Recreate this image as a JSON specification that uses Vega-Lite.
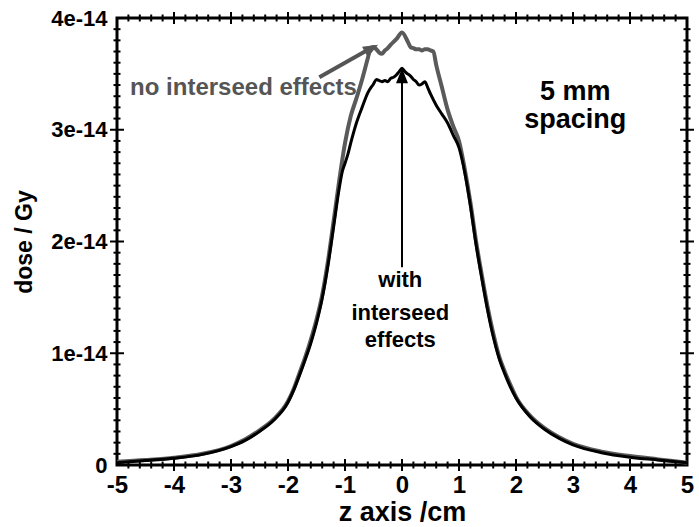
{
  "$schema": "https://vega.github.io/schema/vega-lite/v6.json",
  "width": 570,
  "height": 447,
  "autosize": {"type": "none"},
  "padding": {"left": 117, "top": 18, "right": 12, "bottom": 62},
  "background": "white",
  "config": {"view": {"stroke": "black", "strokeWidth": 3}, "font": "Liberation Sans"},
  "datasets": {
    "curves": [
      {"series": "no interseed effects", "z": -5.0, "dose": 0.03e-14},
      {"series": "no interseed effects", "z": -4.5, "dose": 0.045e-14},
      {"series": "no interseed effects", "z": -4.0, "dose": 0.065e-14},
      {"series": "no interseed effects", "z": -3.5, "dose": 0.10e-14},
      {"series": "no interseed effects", "z": -3.0, "dose": 0.17e-14},
      {"series": "no interseed effects", "z": -2.75, "dose": 0.23e-14},
      {"series": "no interseed effects", "z": -2.5, "dose": 0.31e-14},
      {"series": "no interseed effects", "z": -2.25, "dose": 0.41e-14},
      {"series": "no interseed effects", "z": -2.0, "dose": 0.57e-14},
      {"series": "no interseed effects", "z": -1.9, "dose": 0.68e-14},
      {"series": "no interseed effects", "z": -1.8, "dose": 0.82e-14},
      {"series": "no interseed effects", "z": -1.7, "dose": 0.96e-14},
      {"series": "no interseed effects", "z": -1.6, "dose": 1.12e-14},
      {"series": "no interseed effects", "z": -1.5, "dose": 1.30e-14},
      {"series": "no interseed effects", "z": -1.4, "dose": 1.52e-14},
      {"series": "no interseed effects", "z": -1.3, "dose": 1.82e-14},
      {"series": "no interseed effects", "z": -1.2, "dose": 2.18e-14},
      {"series": "no interseed effects", "z": -1.1, "dose": 2.55e-14},
      {"series": "no interseed effects", "z": -1.0, "dose": 2.88e-14},
      {"series": "no interseed effects", "z": -0.9, "dose": 3.12e-14},
      {"series": "no interseed effects", "z": -0.8, "dose": 3.28e-14},
      {"series": "no interseed effects", "z": -0.7, "dose": 3.45e-14},
      {"series": "no interseed effects", "z": -0.6, "dose": 3.64e-14},
      {"series": "no interseed effects", "z": -0.55, "dose": 3.73e-14},
      {"series": "no interseed effects", "z": -0.5, "dose": 3.74e-14},
      {"series": "no interseed effects", "z": -0.45, "dose": 3.72e-14},
      {"series": "no interseed effects", "z": -0.4, "dose": 3.69e-14},
      {"series": "no interseed effects", "z": -0.35, "dose": 3.68e-14},
      {"series": "no interseed effects", "z": -0.3, "dose": 3.71e-14},
      {"series": "no interseed effects", "z": -0.25, "dose": 3.73e-14},
      {"series": "no interseed effects", "z": -0.2, "dose": 3.76e-14},
      {"series": "no interseed effects", "z": -0.1, "dose": 3.81e-14},
      {"series": "no interseed effects", "z": 0.0, "dose": 3.87e-14},
      {"series": "no interseed effects", "z": 0.1, "dose": 3.79e-14},
      {"series": "no interseed effects", "z": 0.15, "dose": 3.74e-14},
      {"series": "no interseed effects", "z": 0.2, "dose": 3.73e-14},
      {"series": "no interseed effects", "z": 0.25, "dose": 3.72e-14},
      {"series": "no interseed effects", "z": 0.3, "dose": 3.72e-14},
      {"series": "no interseed effects", "z": 0.35, "dose": 3.71e-14},
      {"series": "no interseed effects", "z": 0.4, "dose": 3.72e-14},
      {"series": "no interseed effects", "z": 0.45, "dose": 3.72e-14},
      {"series": "no interseed effects", "z": 0.5, "dose": 3.71e-14},
      {"series": "no interseed effects", "z": 0.55, "dose": 3.70e-14},
      {"series": "no interseed effects", "z": 0.6, "dose": 3.58e-14},
      {"series": "no interseed effects", "z": 0.7, "dose": 3.38e-14},
      {"series": "no interseed effects", "z": 0.8, "dose": 3.18e-14},
      {"series": "no interseed effects", "z": 0.9, "dose": 3.03e-14},
      {"series": "no interseed effects", "z": 1.0, "dose": 2.90e-14},
      {"series": "no interseed effects", "z": 1.1, "dose": 2.65e-14},
      {"series": "no interseed effects", "z": 1.2, "dose": 2.35e-14},
      {"series": "no interseed effects", "z": 1.3, "dose": 2.00e-14},
      {"series": "no interseed effects", "z": 1.4, "dose": 1.70e-14},
      {"series": "no interseed effects", "z": 1.5, "dose": 1.42e-14},
      {"series": "no interseed effects", "z": 1.6, "dose": 1.18e-14},
      {"series": "no interseed effects", "z": 1.7, "dose": 0.98e-14},
      {"series": "no interseed effects", "z": 1.8, "dose": 0.84e-14},
      {"series": "no interseed effects", "z": 1.9, "dose": 0.72e-14},
      {"series": "no interseed effects", "z": 2.0, "dose": 0.61e-14},
      {"series": "no interseed effects", "z": 2.25, "dose": 0.44e-14},
      {"series": "no interseed effects", "z": 2.5, "dose": 0.33e-14},
      {"series": "no interseed effects", "z": 2.75, "dose": 0.25e-14},
      {"series": "no interseed effects", "z": 3.0, "dose": 0.19e-14},
      {"series": "no interseed effects", "z": 3.5, "dose": 0.12e-14},
      {"series": "no interseed effects", "z": 4.0, "dose": 0.08e-14},
      {"series": "no interseed effects", "z": 4.5, "dose": 0.05e-14},
      {"series": "no interseed effects", "z": 5.0, "dose": 0.02e-14},
      {"series": "with interseed effects", "z": -5.0, "dose": 0.02e-14},
      {"series": "with interseed effects", "z": -4.5, "dose": 0.04e-14},
      {"series": "with interseed effects", "z": -4.0, "dose": 0.06e-14},
      {"series": "with interseed effects", "z": -3.5, "dose": 0.095e-14},
      {"series": "with interseed effects", "z": -3.0, "dose": 0.165e-14},
      {"series": "with interseed effects", "z": -2.75, "dose": 0.22e-14},
      {"series": "with interseed effects", "z": -2.5, "dose": 0.30e-14},
      {"series": "with interseed effects", "z": -2.25, "dose": 0.40e-14},
      {"series": "with interseed effects", "z": -2.0, "dose": 0.56e-14},
      {"series": "with interseed effects", "z": -1.9, "dose": 0.67e-14},
      {"series": "with interseed effects", "z": -1.8, "dose": 0.80e-14},
      {"series": "with interseed effects", "z": -1.7, "dose": 0.94e-14},
      {"series": "with interseed effects", "z": -1.6, "dose": 1.09e-14},
      {"series": "with interseed effects", "z": -1.5, "dose": 1.27e-14},
      {"series": "with interseed effects", "z": -1.4, "dose": 1.49e-14},
      {"series": "with interseed effects", "z": -1.3, "dose": 1.78e-14},
      {"series": "with interseed effects", "z": -1.2, "dose": 2.13e-14},
      {"series": "with interseed effects", "z": -1.1, "dose": 2.48e-14},
      {"series": "with interseed effects", "z": -1.05, "dose": 2.62e-14},
      {"series": "with interseed effects", "z": -1.0, "dose": 2.70e-14},
      {"series": "with interseed effects", "z": -0.95, "dose": 2.78e-14},
      {"series": "with interseed effects", "z": -0.9, "dose": 2.88e-14},
      {"series": "with interseed effects", "z": -0.8, "dose": 3.06e-14},
      {"series": "with interseed effects", "z": -0.7, "dose": 3.20e-14},
      {"series": "with interseed effects", "z": -0.6, "dose": 3.33e-14},
      {"series": "with interseed effects", "z": -0.5, "dose": 3.41e-14},
      {"series": "with interseed effects", "z": -0.45, "dose": 3.45e-14},
      {"series": "with interseed effects", "z": -0.4, "dose": 3.44e-14},
      {"series": "with interseed effects", "z": -0.35, "dose": 3.43e-14},
      {"series": "with interseed effects", "z": -0.3, "dose": 3.44e-14},
      {"series": "with interseed effects", "z": -0.25, "dose": 3.43e-14},
      {"series": "with interseed effects", "z": -0.2, "dose": 3.46e-14},
      {"series": "with interseed effects", "z": -0.15, "dose": 3.47e-14},
      {"series": "with interseed effects", "z": -0.1, "dose": 3.49e-14},
      {"series": "with interseed effects", "z": -0.05, "dose": 3.52e-14},
      {"series": "with interseed effects", "z": 0.0, "dose": 3.55e-14},
      {"series": "with interseed effects", "z": 0.05, "dose": 3.52e-14},
      {"series": "with interseed effects", "z": 0.1, "dose": 3.50e-14},
      {"series": "with interseed effects", "z": 0.15, "dose": 3.48e-14},
      {"series": "with interseed effects", "z": 0.2, "dose": 3.45e-14},
      {"series": "with interseed effects", "z": 0.25, "dose": 3.43e-14},
      {"series": "with interseed effects", "z": 0.3, "dose": 3.40e-14},
      {"series": "with interseed effects", "z": 0.35, "dose": 3.41e-14},
      {"series": "with interseed effects", "z": 0.4, "dose": 3.43e-14},
      {"series": "with interseed effects", "z": 0.45, "dose": 3.38e-14},
      {"series": "with interseed effects", "z": 0.5, "dose": 3.32e-14},
      {"series": "with interseed effects", "z": 0.6, "dose": 3.22e-14},
      {"series": "with interseed effects", "z": 0.7, "dose": 3.14e-14},
      {"series": "with interseed effects", "z": 0.8, "dose": 3.06e-14},
      {"series": "with interseed effects", "z": 0.9, "dose": 2.95e-14},
      {"series": "with interseed effects", "z": 1.0, "dose": 2.84e-14},
      {"series": "with interseed effects", "z": 1.1, "dose": 2.62e-14},
      {"series": "with interseed effects", "z": 1.2, "dose": 2.32e-14},
      {"series": "with interseed effects", "z": 1.3, "dose": 1.97e-14},
      {"series": "with interseed effects", "z": 1.4, "dose": 1.67e-14},
      {"series": "with interseed effects", "z": 1.5, "dose": 1.39e-14},
      {"series": "with interseed effects", "z": 1.6, "dose": 1.15e-14},
      {"series": "with interseed effects", "z": 1.7, "dose": 0.96e-14},
      {"series": "with interseed effects", "z": 1.8, "dose": 0.82e-14},
      {"series": "with interseed effects", "z": 1.9, "dose": 0.70e-14},
      {"series": "with interseed effects", "z": 2.0, "dose": 0.60e-14},
      {"series": "with interseed effects", "z": 2.25, "dose": 0.43e-14},
      {"series": "with interseed effects", "z": 2.5, "dose": 0.32e-14},
      {"series": "with interseed effects", "z": 2.75, "dose": 0.24e-14},
      {"series": "with interseed effects", "z": 3.0, "dose": 0.18e-14},
      {"series": "with interseed effects", "z": 3.5, "dose": 0.11e-14},
      {"series": "with interseed effects", "z": 4.0, "dose": 0.07e-14},
      {"series": "with interseed effects", "z": 4.5, "dose": 0.045e-14},
      {"series": "with interseed effects", "z": 5.0, "dose": 0.02e-14}
    ],
    "xmajor": [{"z": -4}, {"z": -3}, {"z": -2}, {"z": -1}, {"z": 0}, {"z": 1}, {"z": 2}, {"z": 3}, {"z": 4}],
    "xminor": [{"z": -4.8}, {"z": -4.6}, {"z": -4.4}, {"z": -4.2}, {"z": -3.8}, {"z": -3.6}, {"z": -3.4}, {"z": -3.2}, {"z": -2.8}, {"z": -2.6}, {"z": -2.4}, {"z": -2.2}, {"z": -1.8}, {"z": -1.6}, {"z": -1.4}, {"z": -1.2}, {"z": -0.8}, {"z": -0.6}, {"z": -0.4}, {"z": -0.2}, {"z": 0.2}, {"z": 0.4}, {"z": 0.6}, {"z": 0.8}, {"z": 1.2}, {"z": 1.4}, {"z": 1.6}, {"z": 1.8}, {"z": 2.2}, {"z": 2.4}, {"z": 2.6}, {"z": 2.8}, {"z": 3.2}, {"z": 3.4}, {"z": 3.6}, {"z": 3.8}, {"z": 4.2}, {"z": 4.4}, {"z": 4.6}, {"z": 4.8}],
    "ymajor": [{"dose": 1e-14}, {"dose": 2e-14}, {"dose": 3e-14}],
    "yminor": [{"dose": 1e-15}, {"dose": 2e-15}, {"dose": 3e-15}, {"dose": 4e-15}, {"dose": 5e-15}, {"dose": 6e-15}, {"dose": 7e-15}, {"dose": 8e-15}, {"dose": 9e-15}, {"dose": 11e-15}, {"dose": 12e-15}, {"dose": 13e-15}, {"dose": 14e-15}, {"dose": 15e-15}, {"dose": 16e-15}, {"dose": 17e-15}, {"dose": 18e-15}, {"dose": 19e-15}, {"dose": 21e-15}, {"dose": 22e-15}, {"dose": 23e-15}, {"dose": 24e-15}, {"dose": 25e-15}, {"dose": 26e-15}, {"dose": 27e-15}, {"dose": 28e-15}, {"dose": 29e-15}, {"dose": 31e-15}, {"dose": 32e-15}, {"dose": 33e-15}, {"dose": 34e-15}, {"dose": 35e-15}, {"dose": 36e-15}, {"dose": 37e-15}, {"dose": 38e-15}, {"dose": 39e-15}],
    "graylabel": [{"z": -4.77, "dose": 3.31e-14, "label": "no interseed effects"}],
    "spacing": [
      {"z": 3.04, "dose": 3.27e-14, "label": "5 mm"},
      {"z": 3.04, "dose": 3.02e-14, "label": "spacing"}
    ],
    "blacklabel": [
      {"z": -0.03, "dose": 1.59e-14, "label": "with"},
      {"z": -0.03, "dose": 1.30e-14, "label": "interseed"},
      {"z": -0.03, "dose": 1.06e-14, "label": "effects"}
    ],
    "grayarrow": [{"z": -1.45, "dose": 3.47e-14, "z2": -0.58, "dose2": 3.72e-14}],
    "grayhead": [{"z": -0.42, "dose": 3.76e-14}],
    "blackarrow": [{"z": 0, "dose": 1.77e-14, "z2": 0, "dose2": 3.45e-14}],
    "blackhead": [{"z": 0, "dose": 3.55e-14}]
  },
  "resolve": {"axis": {"x": "independent", "y": "independent"}},
  "layer": [
    {
      "data": {"name": "curves"},
      "transform": [{"filter": "datum.series == 'no interseed effects'"}],
      "mark": {"type": "line", "color": "#5a5a5a", "strokeWidth": 4, "interpolate": "monotone"},
      "encoding": {
        "x": {"field": "z", "type": "quantitative", "scale": {"domain": [-5, 5], "nice": false, "zero": false},
          "axis": {"orient": "bottom", "values": [-5, -4, -3, -2, -1, 0, 1, 2, 3, 4, 5], "labelExpr": "datum.value + ''",
            "ticks": false, "tickSize": 0, "domain": false, "grid": false,
            "labelFont": "Liberation Sans", "labelFontSize": 24, "labelFontWeight": "bold", "labelColor": "black",
            "labelPadding": 8, "labelFlush": false, "labelOverlap": false,
            "title": "z axis /cm", "titleFont": "Liberation Sans", "titleFontSize": 27, "titleFontWeight": "bold", "titleColor": "black", "titlePadding": 2}},
        "y": {"field": "dose", "type": "quantitative", "scale": {"domain": [0, 4e-14], "nice": false, "zero": false},
          "axis": {"orient": "left", "values": [0, 1e-14, 2e-14, 3e-14, 4e-14],
            "labelExpr": "datum.value == 0 ? '0' : round(datum.value * 1e14) + 'e-14'",
            "ticks": false, "tickSize": 0, "domain": false, "grid": false,
            "labelFont": "Liberation Sans", "labelFontSize": 22, "labelFontWeight": "bold", "labelColor": "black",
            "labelPadding": 10, "labelFlush": false, "labelOverlap": false,
            "title": "dose / Gy", "titleFont": "Liberation Sans", "titleFontSize": 23, "titleFontWeight": "bold", "titleColor": "black", "titlePadding": 14}}
      }
    },
    {
      "data": {"name": "curves"},
      "transform": [{"filter": "datum.series == 'with interseed effects'"}],
      "mark": {"type": "line", "color": "black", "strokeWidth": 3, "interpolate": "monotone"},
      "encoding": {
        "x": {"field": "z", "type": "quantitative", "scale": {"domain": [-5, 5], "nice": false, "zero": false}, "axis": null},
        "y": {"field": "dose", "type": "quantitative", "scale": {"domain": [0, 4e-14], "nice": false, "zero": false}, "axis": null}
      }
    },
    {
      "data": {"name": "xmajor"},
      "mark": {"type": "tick", "orient": "vertical", "size": 12, "thickness": 2, "color": "black", "opacity": 1},
      "encoding": {
        "x": {"field": "z", "type": "quantitative", "scale": {"domain": [-5, 5], "nice": false, "zero": false}, "axis": null},
        "y": {"datum": 0, "type": "quantitative", "scale": {"domain": [0, 4e-14], "nice": false, "zero": false}, "axis": null}
      }
    },
    {
      "data": {"name": "xmajor"},
      "mark": {"type": "tick", "orient": "vertical", "size": 12, "thickness": 2, "color": "black", "opacity": 1},
      "encoding": {
        "x": {"field": "z", "type": "quantitative", "scale": {"domain": [-5, 5], "nice": false, "zero": false}, "axis": null},
        "y": {"datum": 4e-14, "type": "quantitative", "scale": {"domain": [0, 4e-14], "nice": false, "zero": false}, "axis": null}
      }
    },
    {
      "data": {"name": "xminor"},
      "mark": {"type": "tick", "orient": "vertical", "size": 7, "thickness": 2, "color": "black", "opacity": 1},
      "encoding": {
        "x": {"field": "z", "type": "quantitative", "scale": {"domain": [-5, 5], "nice": false, "zero": false}, "axis": null},
        "y": {"datum": 0, "type": "quantitative", "scale": {"domain": [0, 4e-14], "nice": false, "zero": false}, "axis": null}
      }
    },
    {
      "data": {"name": "xminor"},
      "mark": {"type": "tick", "orient": "vertical", "size": 7, "thickness": 2, "color": "black", "opacity": 1},
      "encoding": {
        "x": {"field": "z", "type": "quantitative", "scale": {"domain": [-5, 5], "nice": false, "zero": false}, "axis": null},
        "y": {"datum": 4e-14, "type": "quantitative", "scale": {"domain": [0, 4e-14], "nice": false, "zero": false}, "axis": null}
      }
    },
    {
      "data": {"name": "ymajor"},
      "mark": {"type": "tick", "orient": "horizontal", "size": 14, "thickness": 2, "color": "black", "opacity": 1},
      "encoding": {
        "x": {"datum": -5, "type": "quantitative", "scale": {"domain": [-5, 5], "nice": false, "zero": false}, "axis": null},
        "y": {"field": "dose", "type": "quantitative", "scale": {"domain": [0, 4e-14], "nice": false, "zero": false}, "axis": null}
      }
    },
    {
      "data": {"name": "ymajor"},
      "mark": {"type": "tick", "orient": "horizontal", "size": 14, "thickness": 2, "color": "black", "opacity": 1},
      "encoding": {
        "x": {"datum": 5, "type": "quantitative", "scale": {"domain": [-5, 5], "nice": false, "zero": false}, "axis": null},
        "y": {"field": "dose", "type": "quantitative", "scale": {"domain": [0, 4e-14], "nice": false, "zero": false}, "axis": null}
      }
    },
    {
      "data": {"name": "yminor"},
      "mark": {"type": "tick", "orient": "horizontal", "size": 7, "thickness": 2, "color": "black", "opacity": 1},
      "encoding": {
        "x": {"datum": -5, "type": "quantitative", "scale": {"domain": [-5, 5], "nice": false, "zero": false}, "axis": null},
        "y": {"field": "dose", "type": "quantitative", "scale": {"domain": [0, 4e-14], "nice": false, "zero": false}, "axis": null}
      }
    },
    {
      "data": {"name": "yminor"},
      "mark": {"type": "tick", "orient": "horizontal", "size": 7, "thickness": 2, "color": "black", "opacity": 1},
      "encoding": {
        "x": {"datum": 5, "type": "quantitative", "scale": {"domain": [-5, 5], "nice": false, "zero": false}, "axis": null},
        "y": {"field": "dose", "type": "quantitative", "scale": {"domain": [0, 4e-14], "nice": false, "zero": false}, "axis": null}
      }
    },
    {
      "data": {"name": "grayarrow"},
      "mark": {"type": "rule", "color": "#555555", "strokeWidth": 4},
      "encoding": {
        "x": {"field": "z", "type": "quantitative", "scale": {"domain": [-5, 5], "nice": false, "zero": false}, "axis": null},
        "y": {"field": "dose", "type": "quantitative", "scale": {"domain": [0, 4e-14], "nice": false, "zero": false}, "axis": null},
        "x2": {"field": "z2"},
        "y2": {"field": "dose2"}
      }
    },
    {
      "data": {"name": "grayhead"},
      "mark": {"type": "point", "shape": "M0,0L0.8,2L-0.8,2Z", "filled": true, "color": "#555555", "opacity": 1, "size": 225, "angle": 61, "strokeWidth": 0},
      "encoding": {
        "x": {"field": "z", "type": "quantitative", "scale": {"domain": [-5, 5], "nice": false, "zero": false}, "axis": null},
        "y": {"field": "dose", "type": "quantitative", "scale": {"domain": [0, 4e-14], "nice": false, "zero": false}, "axis": null}
      }
    },
    {
      "data": {"name": "blackarrow"},
      "mark": {"type": "rule", "color": "black", "strokeWidth": 2},
      "encoding": {
        "x": {"field": "z", "type": "quantitative", "scale": {"domain": [-5, 5], "nice": false, "zero": false}, "axis": null},
        "y": {"field": "dose", "type": "quantitative", "scale": {"domain": [0, 4e-14], "nice": false, "zero": false}, "axis": null},
        "x2": {"field": "z2"},
        "y2": {"field": "dose2"}
      }
    },
    {
      "data": {"name": "blackhead"},
      "mark": {"type": "point", "shape": "M0,0L0.8,2L-0.8,2Z", "filled": true, "color": "black", "opacity": 1, "size": 225, "angle": 0, "strokeWidth": 0},
      "encoding": {
        "x": {"field": "z", "type": "quantitative", "scale": {"domain": [-5, 5], "nice": false, "zero": false}, "axis": null},
        "y": {"field": "dose", "type": "quantitative", "scale": {"domain": [0, 4e-14], "nice": false, "zero": false}, "axis": null}
      }
    },
    {
      "data": {"name": "graylabel"},
      "mark": {"type": "text", "align": "left", "baseline": "alphabetic", "font": "Liberation Sans", "fontSize": 24, "fontWeight": "bold", "color": "#555555"},
      "encoding": {
        "x": {"field": "z", "type": "quantitative", "scale": {"domain": [-5, 5], "nice": false, "zero": false}, "axis": null},
        "y": {"field": "dose", "type": "quantitative", "scale": {"domain": [0, 4e-14], "nice": false, "zero": false}, "axis": null},
        "text": {"field": "label"}
      }
    },
    {
      "data": {"name": "spacing"},
      "mark": {"type": "text", "align": "center", "baseline": "alphabetic", "font": "Liberation Sans", "fontSize": 27, "fontWeight": "bold", "color": "black"},
      "encoding": {
        "x": {"field": "z", "type": "quantitative", "scale": {"domain": [-5, 5], "nice": false, "zero": false}, "axis": null},
        "y": {"field": "dose", "type": "quantitative", "scale": {"domain": [0, 4e-14], "nice": false, "zero": false}, "axis": null},
        "text": {"field": "label"}
      }
    },
    {
      "data": {"name": "blacklabel"},
      "mark": {"type": "text", "align": "center", "baseline": "alphabetic", "font": "Liberation Sans", "fontSize": 22, "fontWeight": "bold", "color": "black"},
      "encoding": {
        "x": {"field": "z", "type": "quantitative", "scale": {"domain": [-5, 5], "nice": false, "zero": false}, "axis": null},
        "y": {"field": "dose", "type": "quantitative", "scale": {"domain": [0, 4e-14], "nice": false, "zero": false}, "axis": null},
        "text": {"field": "label"}
      }
    }
  ]
}
